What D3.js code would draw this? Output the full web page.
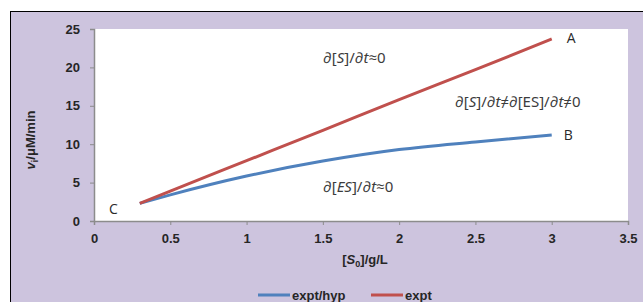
<!DOCTYPE html>
<html><head><meta charset="utf-8">
<script src="https://cdn.jsdelivr.net/npm/d3@7"></script>
<style>body{margin:0;background:#fff}svg{display:block}</style>
</head><body>
<svg id="c" width="643" height="302"></svg>
<script>
const sConc = [0.3, 0.5, 1, 1.5, 2, 2.5, 3];
const exptHyp = [2.3, 3.4, 5.85, 7.8, 9.3, 10.3, 11.2];
const expt = [2.3, 3.9, 7.85, 11.8, 15.8, 19.7, 23.7];
const xTicks = [0, 0.5, 1, 1.5, 2, 2.5, 3, 3.5];
const yTicks = [0, 5, 10, 15, 20, 25];
const seriesNames = ["expt/hyp", "expt"];
const colors = ["#4f81bd", "#c0504d"];

const svg = d3.select("#c");
svg.append("rect").attr("x", 10.5).attr("y", 11.5).attr("width", 700).attr("height", 400)
  .attr("fill", "#cdc4de").attr("stroke", "#000").attr("stroke-width", 1);

const L = 94, R = 628, T = 29, B = 221;
const x = d3.scaleLinear().domain([0, 3.5]).range([L, R]);
const y = d3.scaleLinear().domain([0, 25]).range([B, T]);

svg.append("rect").attr("x", L).attr("y", T).attr("width", R - L).attr("height", B - T).attr("fill", "#fff");

const font = "Liberation Sans, Arial, sans-serif";
const xa = svg.append("g").attr("transform", `translate(0,${B})`)
  .call(d3.axisBottom(x).tickValues(xTicks).tickSize(4).tickPadding(9).tickFormat(d => String(d)));
const ya = svg.append("g").attr("transform", `translate(${L},0)`)
  .call(d3.axisLeft(y).tickValues(yTicks).tickSize(4).tickPadding(10));
[xa, ya].forEach(a => {
  a.select(".domain").attr("stroke", "#8c8c8c").attr("stroke-width", 1.5);
  a.selectAll(".tick line").attr("stroke", "#8c8c8c");
  a.selectAll(".tick text").attr("font-family", font).attr("font-weight", "bold")
    .attr("font-size", 13).attr("fill", "#262626");
});

const line = d3.line().x(d => x(d[0])).y(d => y(d[1])).curve(d3.curveMonotoneX);
[exptHyp, expt].forEach((vals, i) => {
  svg.append("path").datum(sConc.map((s, j) => [s, vals[j]]))
    .attr("d", line).attr("fill", "none").attr("stroke", colors[i])
    .attr("stroke-width", 3).attr("stroke-linejoin", "round");
});

// point labels
const lab = (t, px, py) => svg.append("text").attr("x", px).attr("y", py)
  .attr("font-family", "Open Sans, Noto Sans, sans-serif").attr("font-size", 14).attr("fill", "#2a2a2a").text(t);
lab("A", x(3) + 15, y(expt[6]) + 4);
lab("B", x(3) + 12, y(exptHyp[6]) + 5);
lab("C", 109, 214);

// annotations
function ann(px, py, parts) {
  const t = svg.append("text").attr("x", px).attr("y", py)
    .attr("font-family", "Noto Sans, Open Sans, sans-serif").attr("font-size", 15).attr("fill", "#3c3c3c");
  parts.forEach(p => t.append("tspan").attr("font-style", p[1] ? "italic" : "normal").text(p[0]));
}
ann(323, 63, [["∂[", 0], ["S", 1], ["]/∂", 0], ["t", 1], ["≈0", 0]]);
ann(455, 107, [["∂[", 0], ["S", 1], ["]/∂", 0], ["t", 1], ["≠∂[ES]/∂", 0], ["t", 1], ["≠0", 0]]);
ann(323, 192, [["∂[", 0], ["ES", 1], ["]/∂", 0], ["t", 1], ["≈0", 0]]);

// axis titles
const xt = svg.append("text").attr("x", (L + R) / 2 + 4).attr("y", 264).attr("text-anchor", "middle")
  .attr("font-family", font).attr("font-weight", "bold").attr("font-size", 13).attr("fill", "#262626");
xt.append("tspan").text("[");
xt.append("tspan").attr("font-style", "italic").text("S");
xt.append("tspan").attr("font-size", 9).attr("dy", 3).text("0");
xt.append("tspan").attr("dy", -3).text("]/g/L");

const yt = svg.append("text").attr("transform", "translate(35,140) rotate(-90)").attr("text-anchor", "middle")
  .attr("font-family", font).attr("font-weight", "bold").attr("font-size", 13).attr("fill", "#262626");
yt.append("tspan").attr("font-style", "italic").text("v");
yt.append("tspan").attr("font-size", 9).attr("dy", 3).text("i");
yt.append("tspan").attr("dy", -3).text("/μM/min");

// legend
const lg = [{x0: 258, tx: 292}, {x0: 371, tx: 405}];
seriesNames.forEach((n, i) => {
  svg.append("line").attr("x1", lg[i].x0).attr("x2", lg[i].x0 + 32).attr("y1", 295).attr("y2", 295)
    .attr("stroke", colors[i]).attr("stroke-width", 3);
  svg.append("text").attr("x", lg[i].tx).attr("y", 300).attr("font-family", font).attr("font-weight", "bold")
    .attr("font-size", 13).attr("fill", "#262626").text(n);
});
</script>
</body></html>
